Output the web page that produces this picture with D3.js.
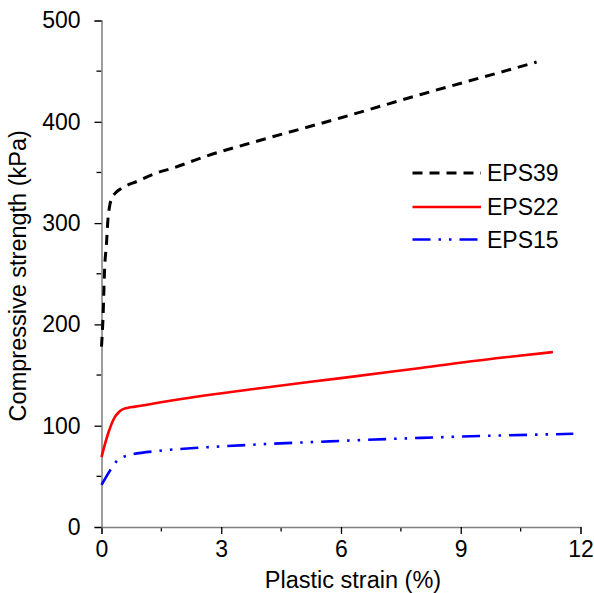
<!DOCTYPE html>
<html>
<head>
<meta charset="utf-8">
<script src="https://cdn.jsdelivr.net/npm/d3@7"></script>
<style>
  html, body { margin: 0; padding: 0; background: #fff; }
  svg { display: block; font-family: Arial, "Liberation Sans", sans-serif; }
</style>
</head>
<body>
<svg id="chart" width="594" height="593"></svg>
<script>
// ---- data ----
const seriesNames = ["EPS39", "EPS22", "EPS15"];
const eps39X = [0, 0.045, 0.07, 0.13, 0.16, 0.2, 0.25, 0.34, 0.51, 0.91, 1.34, 1.84, 2.54, 4, 6, 8, 10, 10.9];
const eps39Y = [178, 214, 247, 283, 303, 316, 324, 329.4, 334.6, 341.5, 349, 355, 365, 382, 404, 427, 449, 459];
const eps22X = [0, 0.17, 0.34, 0.42, 0.5, 0.67, 0.84, 1.84, 3.97, 6, 8, 10, 11.31];
const eps22Y = [69, 92.8, 108.9, 112.8, 115.5, 117.8, 118.8, 125.4, 137, 147, 157, 167, 172.7];
const eps15X = [0, 0.25, 0.38, 0.63, 1.47, 2.47, 3.97, 6, 8, 9.49, 11.82];
const eps15Y = [41.5, 58, 65, 70.4, 75.3, 78.3, 81.6, 85, 88, 89.8, 92];
const xTicks = [0, 3, 6, 9, 12];
const yTicks = [0, 100, 200, 300, 400, 500];
const xMinor = [1.5, 4.5, 7.5, 10.5];
const yMinor = [50, 150, 250, 350, 450];

const svg = d3.select("#chart");
const x = d3.scaleLinear().domain([0, 12]).range([101.5, 580.5]);
const y = d3.scaleLinear().domain([0, 500]).range([527, 20.5]);

// minor ticks
const gMinor = svg.append("g");
gMinor.selectAll("line.mx").data(xMinor).enter().append("line")
  .attr("x1", d => x(d)).attr("x2", d => x(d))
  .attr("y1", y(0)).attr("y2", y(0) + 4.5)
  .attr("stroke", "#000").attr("stroke-width", 1.3);
gMinor.selectAll("line.my").data(yMinor).enter().append("line")
  .attr("y1", d => y(d)).attr("y2", d => y(d))
  .attr("x1", x(0)).attr("x2", x(0) - 5)
  .attr("stroke", "#000").attr("stroke-width", 1.3);

// axes
const xAxis = svg.append("g").attr("transform", `translate(0,${y(0)})`)
  .call(d3.axisBottom(x).tickValues(xTicks).tickSize(7).tickPadding(7).tickFormat(d3.format("d")));
const yAxis = svg.append("g").attr("transform", `translate(${x(0)},0)`)
  .call(d3.axisLeft(y).tickValues(yTicks).tickSize(7).tickPadding(14).tickFormat(d3.format("d")));
[xAxis, yAxis].forEach(g => {
  g.select(".domain").attr("stroke", "#7f7f7f").attr("stroke-width", 1.5);
  g.selectAll(".tick line").attr("stroke", "#000").attr("stroke-width", 1.3);
  g.selectAll(".tick text").attr("font-size", 23).attr("fill", "#000")
    .attr("font-family", "Arial, 'Liberation Sans', sans-serif");
});

// lines
const line = d3.line().x(d => x(d[0])).y(d => y(d[1])).curve(d3.curveMonotoneX);
const styles = [
  { xs: eps39X, ys: eps39Y, color: "#000000", width: 3, dash: "10,7", cap: "butt" },
  { xs: eps22X, ys: eps22Y, color: "#ff0000", width: 2.6, dash: null, cap: "butt" },
  { xs: eps15X, ys: eps15Y, color: "#0000ff", width: 2.6, dash: "18,8,2.5,8,2.5,8", cap: "butt" }
];
styles.forEach(s => {
  const pts = s.xs.map((v, i) => [v, s.ys[i]]);
  svg.append("path").datum(pts)
    .attr("d", line)
    .attr("fill", "none")
    .attr("stroke", s.color)
    .attr("stroke-width", s.width)
    .attr("stroke-linecap", s.cap)
    .attr("stroke-linejoin", "round")
    .attr("stroke-dasharray", s.dash);
});

// legend
const legendY = [173, 207, 239.5];
seriesNames.forEach((name, i) => {
  const s = styles[i];
  svg.append("line")
    .attr("x1", 412.5).attr("x2", 481)
    .attr("y1", legendY[i]).attr("y2", legendY[i])
    .attr("stroke", s.color).attr("stroke-width", s.width)
    .attr("stroke-dasharray", s.dash);
  svg.append("text")
    .attr("x", 487).attr("y", legendY[i]).attr("dy", "0.36em")
    .attr("font-size", 23).attr("fill", "#000")
    .text(name);
});

// axis titles
svg.append("text")
  .attr("x", 353).attr("y", 588)
  .attr("text-anchor", "middle").attr("font-size", 23.5).attr("fill", "#000")
  .text("Plastic strain (%)");
svg.append("text")
  .attr("transform", `translate(25.5,${(y(0) + y(500)) / 2 + 2}) rotate(-90)`)
  .attr("text-anchor", "middle").attr("font-size", 23.5).attr("fill", "#000")
  .text("Compressive strength (kPa)");
</script>
</body>
</html>
